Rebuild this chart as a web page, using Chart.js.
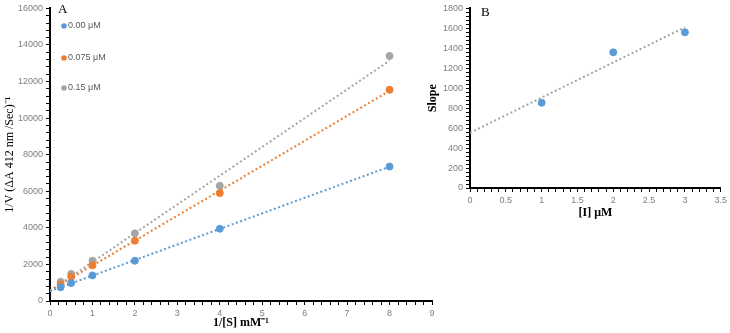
<!DOCTYPE html>
<html>
<head>
<meta charset="utf-8">
<script src="https://cdn.jsdelivr.net/npm/chart.js@4"></script>
<style>
  body { margin: 0; background: #fff; }
  #wrapA { position: absolute; left: 0; top: 0; width: 438px; height: 333px; }
  #wrapB { position: absolute; left: 425px; top: 0; width: 305px; height: 225px; }
</style>
</head>
<body>
<div id="wrapA"><canvas id="chartA"></canvas></div>
<div id="wrapB"><canvas id="chartB"></canvas></div>
<script>
// panel A: Lineweaver-Burk, 1/[S] (mM-1) vs 1/V
const invSubstrate = [0.25, 0.5, 1, 2, 4, 8];
const rateInh0 = [750, 980, 1400, 2200, 3950, 7350];
const rateInh075 = [900, 1330, 1950, 3300, 5900, 11550];
const rateInh15 = [1050, 1480, 2200, 3700, 6300, 13400];
const seriesNames = ['0.00 μM', '0.075 μM', '0.15 μM'];
const seriesColors = ['#5B9BD5', '#ED7D31', '#A5A5A5'];

// panel B: slope replot
const inhibitorConc = [1, 2, 3];
const slopeValues = [855, 1360, 1560];

const tickGray = '#7f7f7f';

function toPoints(xs, ys) {
    return xs.map((x, i) => ({ x: x, y: ys[i] }));
}

// least squares line, drawn from x=0 to the last x (like the excel trendline)
function trendLine(xs, ys) {
    const n = xs.length;
    const mx = xs.reduce((a, b) => a + b, 0) / n;
    const my = ys.reduce((a, b) => a + b, 0) / n;
    let sxy = 0, sxx = 0;
    for (let i = 0; i < n; i++) {
        sxy += (xs[i] - mx) * (ys[i] - my);
        sxx += (xs[i] - mx) * (xs[i] - mx);
    }
    const m = sxy / sxx;
    const b = my - m * mx;
    const xEnd = xs[n - 1];
    return [{ x: 0, y: b }, { x: xEnd, y: m * xEnd + b }];
}

function markers(label, data, color) {
    return {
        label: label,
        data: data,
        backgroundColor: color,
        borderColor: color,
        pointRadius: 3.5,
        pointHoverRadius: 3.5,
        order: 1
    };
}

function trend(data, color) {
    return {
        label: 'trend',
        data: data,
        showLine: true,
        borderColor: color,
        borderWidth: 2,
        borderDash: [2, 2.5],
        pointRadius: 0,
        fill: false,
        order: 2
    };
}

function axis(min, max, step, isLabel, title, extra) {
    return Object.assign({
        type: 'linear',
        min: min,
        max: max,
        grid: { drawOnChartArea: false, drawTicks: true, tickLength: 4, color: '#000', lineWidth: 1 },
        border: { display: true, color: '#000', width: 2 },
        ticks: {
            stepSize: step,
            autoSkip: false,
            maxRotation: 0,
            color: tickGray,
            font: { family: 'Liberation Sans', size: 9 },
            callback: (v) => isLabel(v) ? String(v) : ''
        },
        title: title
    }, extra);
}

const near = (v, unit) => Math.abs(v / unit - Math.round(v / unit)) < 1e-6;

const serifTitle = (text, bold, pad) => ({
    display: true,
    text: text,
    color: '#000',
    font: { family: 'Liberation Serif', size: 12, weight: bold ? 'bold' : 'normal' },
    padding: pad
});

const panelText = {
    id: 'panelText',
    afterDraw(chart, args, opts) {
        const ctx = chart.ctx;
        ctx.save();
        ctx.fillStyle = '#000';
        ctx.font = '13px "Liberation Serif"';
        ctx.textBaseline = 'middle';
        ctx.fillText(opts.letter, opts.letterX, opts.letterY);
        if (opts.legend) {
            ctx.font = '9px "Liberation Sans"';
            opts.legend.forEach((name, i) => {
                const y = opts.legendY[i];
                ctx.fillStyle = seriesColors[i];
                ctx.beginPath();
                ctx.arc(opts.legendX, y, 2.8, 0, Math.PI * 2);
                ctx.fill();
                ctx.fillStyle = '#595959';
                ctx.fillText(name, opts.legendX + 4, y);
            });
        }
        ctx.restore();
    }
};

new Chart(document.getElementById('chartA'), {
    type: 'scatter',
    data: {
        datasets: [
            markers(seriesNames[0], toPoints(invSubstrate, rateInh0), seriesColors[0]),
            markers(seriesNames[1], toPoints(invSubstrate, rateInh075), seriesColors[1]),
            markers(seriesNames[2], toPoints(invSubstrate, rateInh15), seriesColors[2]),
            trend(trendLine(invSubstrate, rateInh0), seriesColors[0]),
            trend(trendLine(invSubstrate, rateInh075), seriesColors[1]),
            trend(trendLine(invSubstrate, rateInh15), seriesColors[2])
        ]
    },
    options: {
        responsive: true,
        maintainAspectRatio: false,
        animation: false,
        layout: { padding: { top: 5, right: 6, left: 0, bottom: 0 } },
        plugins: {
            legend: { display: false },
            tooltip: { enabled: false },
            panelText: {
                letter: 'A', letterX: 58, letterY: 10,
                legend: seriesNames, legendX: 64, legendY: [26, 58, 88]
            }
        },
        scales: {
            x: axis(0, 9, 0.2, (v) => near(v, 1), serifTitle('1/[S] mM⁻¹', true, { top: 0, bottom: 3 }), {
                afterFit: (s) => { s.height = 32; }
            }),
            y: axis(0, 16000, 400, (v) => near(v, 2000), serifTitle('1/V (ΔA 412 nm /Sec)⁻¹', false, { top: 3, bottom: 0 }), {
                afterFit: (s) => { s.width = 50; }
            })
        }
    },
    plugins: [panelText]
});

new Chart(document.getElementById('chartB'), {
    type: 'scatter',
    data: {
        datasets: [
            markers('Slope', toPoints(inhibitorConc, slopeValues), seriesColors[0]),
            trend(trendLine(inhibitorConc, slopeValues), seriesColors[2])
        ]
    },
    options: {
        responsive: true,
        maintainAspectRatio: false,
        animation: false,
        layout: { padding: { top: 8, right: 6, left: 0, bottom: 0 } },
        plugins: {
            legend: { display: false },
            tooltip: { enabled: false },
            panelText: { letter: 'B', letterX: 56, letterY: 13 }
        },
        scales: {
            x: axis(0, 3.5, 0.1, (v) => near(v, 0.5), serifTitle('[I] μM', true, { top: 0, bottom: 5 }), {
                afterFit: (s) => { s.height = 37; }
            }),
            y: axis(0, 1800, 40, (v) => near(v, 200), serifTitle('Slope', true, { top: 1, bottom: 0 }), {
                afterFit: (s) => { s.width = 45; }
            })
        }
    },
    plugins: [panelText]
});
</script>
</body>
</html>
